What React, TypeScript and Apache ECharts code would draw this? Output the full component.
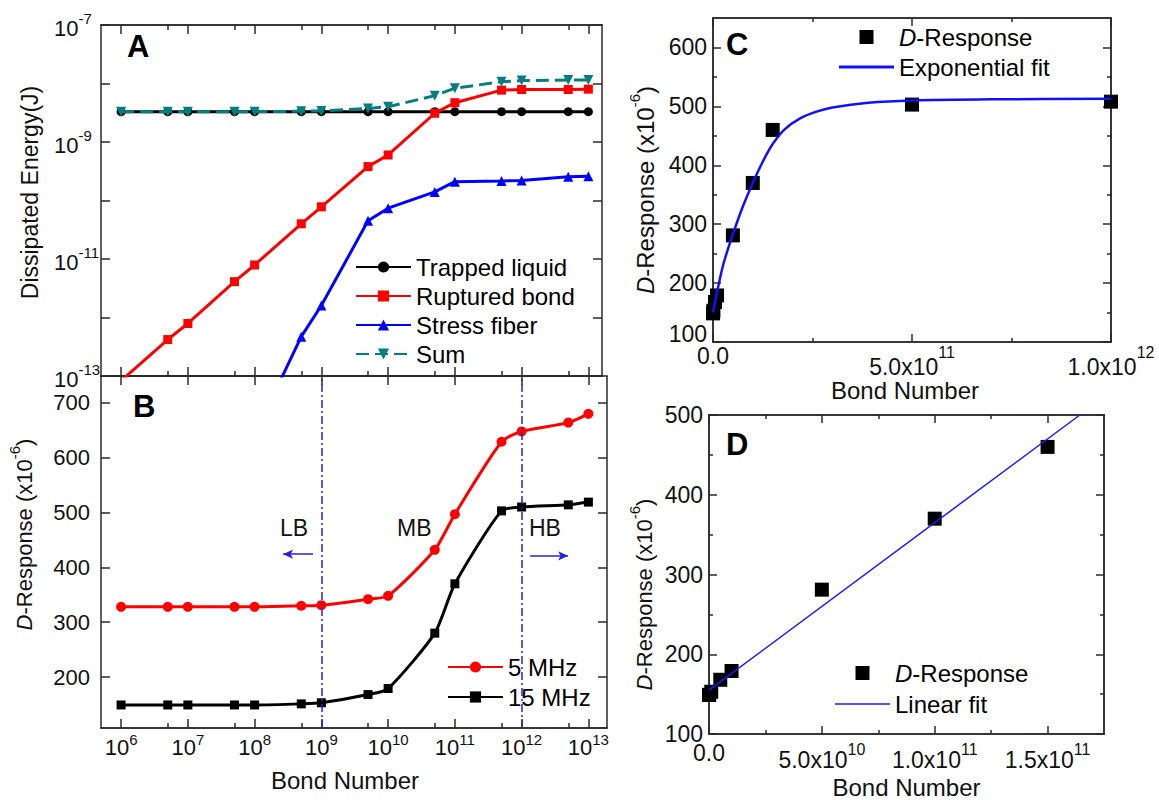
import React, { useEffect, useRef } from 'react';
import * as echarts from 'echarts';

const FONT = '"Liberation Sans", Arial, Helvetica, sans-serif';
const AXIS_COLOR = '#2a2a2a';
const TEXT_COLOR = '#111111';

// ---------------- Panel A & B: bond numbers ----------------
const bondNumber = [1e6, 5e6, 1e7, 5e7, 1e8, 5e8, 1e9, 5e9, 1e10, 5e10, 1e11, 5e11, 1e12, 5e12, 1e13];

// Panel A: dissipated energy (J)
const trappedLiquid = [3.3e-9, 3.3e-9, 3.3e-9, 3.3e-9, 3.3e-9, 3.3e-9, 3.3e-9, 3.3e-9, 3.3e-9, 3.3e-9, 3.3e-9, 3.3e-9, 3.3e-9, 3.3e-9, 3.3e-9];
const rupturedBond = [8.3e-14, 4.2e-13, 7.9e-13, 4.1e-12, 7.9e-12, 4.0e-11, 7.8e-11, 3.8e-10, 6.0e-10, 3.1e-9, 4.7e-9, 7.7e-9, 7.9e-9, 7.9e-9, 8.0e-9];
const stressFiber = [null, null, null, null, 1.0e-14, 4.7e-13, 1.6e-12, 4.5e-11, 7.4e-11, 1.4e-10, 2.1e-10, 2.15e-10, 2.2e-10, 2.55e-10, 2.6e-10];
const sumEnergy = [3.3e-9, 3.3e-9, 3.3e-9, 3.3e-9, 3.3e-9, 3.35e-9, 3.4e-9, 3.75e-9, 4.0e-9, 6.2e-9, 8.3e-9, 1.07e-8, 1.12e-8, 1.15e-8, 1.15e-8];

// Panel B: D-Response (x10^-6)
const response5MHz = [328, 328, 328, 328, 328, 330, 331, 342, 348, 432, 497, 629, 648, 664, 680];
const response15MHz = [149, 149, 149, 149, 149, 151, 153, 168, 179, 280, 370, 503, 510, 514, 519];

// Panels C & D: D-Response vs bond number (linear axes)
const dResponseN = [1e6, 1e7, 1e8, 1e9, 5e9, 1e10, 5e10, 1e11, 1.5e11, 5e11, 1e12];
const dResponse = [149, 149, 149, 153, 168, 179, 281, 370, 460, 503, 508];

// Exponential fit curve
const expFitN = [0, 1e10, 2.6e10, 5e10, 7.5e10, 1e11, 1.25e11, 1.5e11, 1.8e11, 2.2e11, 2.6e11, 3e11, 3.9e11, 5e11, 7e11, 1e12];
const expFitY = [150, 184, 232, 283, 330, 370, 406, 436, 461, 480, 491, 498, 506, 510, 512, 513];

// Linear fit line
const linFitN = [0, 1.643e11];
const linFitY = [155, 500];

// Tick values
const decadeTicks = [1e6, 1e7, 1e8, 1e9, 1e10, 1e11, 1e12, 1e13];
const halfDecadeTicks = [5e6, 5e7, 5e8, 5e9, 5e10, 5e11, 5e12];
const energyTicks = [1e-13, 1e-12, 1e-11, 1e-10, 1e-9, 1e-8, 1e-7];
const energyLabels = [1e-13, 1e-11, 1e-9, 1e-7];
const responseTicksB = [200, 300, 400, 500, 600, 700];
const responseTicksC = [100, 200, 300, 400, 500, 600];
const responseLabelsC = [200, 300, 400, 500, 600];
const responseBottomLabelC = [100];
const responseMinorC = [150, 250, 350, 450, 550];
const responseTicksD = [100, 200, 300, 400, 500];
const responseMinorD = [150, 250, 350, 450];
const bondTicksC = [0, 5e11, 1e12];
const bondMinorC = [2.5e11, 7.5e11];
const bondTicksD = [0, 5e10, 1e11, 1.5e11];
const bondMinorD = [2.5e10, 7.5e10, 1.25e11];

// Band boundaries in panel B
const bandBoundaries = [1e9, 1e12];
const lbArrow = { from: 7.5e8, to: 2.67e8, y: 424 };
const hbArrow = { from: 1.34e12, to: 4.97e12, y: 421 };

const pairs = (xs: number[], ys: (number | null)[]) =>
  xs.map((x, i) => [x, ys[i]]).filter((p) => p[1] !== null && p[1] !== undefined);

const pow10Label = (v: number) => `{b|10}{s|${Math.round(Math.log10(v))}}`;
const sciLabel = (v: number) => {
  if (v === 0) return '{z|0.0}';
  const e = Math.floor(Math.log10(v) + 1e-9);
  const m = (v / Math.pow(10, e)).toFixed(1);
  return `{m|${m}x10}{s|${e}}`;
};

function frameAxis(o: any) {
  const ax: any = {
    type: o.type,
    gridIndex: o.gridIndex,
    position: o.position,
    min: o.min,
    max: o.max,
    axisLine: { show: true, onZero: false, lineStyle: { color: AXIS_COLOR, width: 1.5 } },
    axisTick: {
      show: true,
      inside: true,
      length: o.len,
      customValues: o.ticks,
      lineStyle: { color: AXIS_COLOR, width: 1.5 },
    },
    axisLabel: o.label || { show: false },
    splitLine: { show: false },
    minorTick: { show: false },
    minorSplitLine: { show: false },
  };
  if (o.type === 'log') ax.logBase = 10;
  if (o.name) Object.assign(ax, o.name);
  return ax;
}

const rt = (size: number, extra: any = {}) => ({ fontSize: size, color: TEXT_COLOR, fontFamily: FONT, ...extra });

const yTitle = (gap: number, size: number, pad: number[]) => ({
  name: '{i|D}{n|-Response (x10}{s|-6}{n|)}',
  nameLocation: 'middle',
  nameGap: gap,
  nameTextStyle: {
    color: TEXT_COLOR,
    fontFamily: FONT,
    fontSize: size,
    padding: pad,
    rich: {
      i: rt(size, { fontStyle: 'italic', padding: [6, 0, 0, 0] }),
      n: rt(size, { padding: [6, 0, 0, 0] }),
      s: rt(15, { verticalAlign: 'top' }),
    },
  },
});

const xTitle = (gap: number, pad: number[]) => ({
  name: 'Bond Number',
  nameLocation: 'middle',
  nameGap: gap,
  nameTextStyle: { color: TEXT_COLOR, fontFamily: FONT, fontSize: 24, padding: pad },
});

export default function App() {
  const ref = useRef<HTMLDivElement>(null);

  useEffect(() => {
    if (!ref.current) return;
    const chart = echarts.init(ref.current, undefined, { renderer: 'svg' });

    const A_MIN = 5e5, A_MAX = 1.6e13, B_MAX = 1.9e13;

    const xAxis = [
      // Panel A (grid 0)
      frameAxis({ gridIndex: 0, position: 'bottom', type: 'log', min: A_MIN, max: A_MAX, ticks: decadeTicks, len: 9 }),
      frameAxis({ gridIndex: 0, position: 'bottom', type: 'log', min: A_MIN, max: A_MAX, ticks: halfDecadeTicks, len: 5 }),
      frameAxis({ gridIndex: 0, position: 'top', type: 'log', min: A_MIN, max: A_MAX, ticks: decadeTicks, len: 9 }),
      frameAxis({ gridIndex: 0, position: 'top', type: 'log', min: A_MIN, max: A_MAX, ticks: halfDecadeTicks, len: 5 }),
      // Panel B (grid 1)
      frameAxis({
        gridIndex: 1, position: 'bottom', type: 'log', min: A_MIN, max: B_MAX, ticks: decadeTicks, len: 9,
        label: {
          show: true, customValues: decadeTicks, margin: 4, color: TEXT_COLOR, fontFamily: FONT,
          formatter: pow10Label,
          rich: { b: rt(22, { padding: [4, 0, 0, 0] }), s: rt(15, { verticalAlign: 'top' }) },
        },
        name: xTitle(40, [0, 18, 0, 0]),
      }),
      frameAxis({ gridIndex: 1, position: 'bottom', type: 'log', min: A_MIN, max: B_MAX, ticks: halfDecadeTicks, len: 5 }),
      frameAxis({ gridIndex: 1, position: 'top', type: 'log', min: A_MIN, max: B_MAX, ticks: decadeTicks, len: 9 }),
      // Panel C (grid 2)
      frameAxis({
        gridIndex: 2, position: 'bottom', type: 'value', min: 0, max: 1e12, ticks: bondTicksC, len: 8,
        label: {
          show: true, customValues: bondTicksC, margin: 2, color: TEXT_COLOR, fontFamily: FONT,
          formatter: sciLabel,
          rich: { z: rt(23), m: rt(23, { padding: [11, 0, 0, 0] }), s: rt(16, { verticalAlign: 'top' }) },
        },
        name: xTitle(32, [0, 14, 0, 0]),
      }),
      frameAxis({ gridIndex: 2, position: 'bottom', type: 'value', min: 0, max: 1e12, ticks: bondMinorC, len: 4 }),
      frameAxis({ gridIndex: 2, position: 'top', type: 'value', min: 0, max: 1e12, ticks: bondTicksC, len: 8 }),
      frameAxis({ gridIndex: 2, position: 'top', type: 'value', min: 0, max: 1e12, ticks: bondMinorC, len: 4 }),
      // Panel D (grid 3)
      frameAxis({
        gridIndex: 3, position: 'bottom', type: 'value', min: 0, max: 1.75e11, ticks: bondTicksD, len: 8,
        label: {
          show: true, customValues: bondTicksD, margin: 7, color: TEXT_COLOR, fontFamily: FONT,
          formatter: sciLabel,
          rich: { z: rt(23), m: rt(23, { padding: [7, 0, 0, 0] }), s: rt(16, { verticalAlign: 'top' }) },
        },
        name: xTitle(41, [0, 0, 0, 0]),
      }),
      frameAxis({ gridIndex: 3, position: 'bottom', type: 'value', min: 0, max: 1.75e11, ticks: bondMinorD, len: 4 }),
      frameAxis({ gridIndex: 3, position: 'top', type: 'value', min: 0, max: 1.75e11, ticks: bondTicksD, len: 8 }),
      frameAxis({ gridIndex: 3, position: 'top', type: 'value', min: 0, max: 1.75e11, ticks: bondMinorD, len: 4 }),
    ];

    const yAxis = [
      // Panel A
      frameAxis({
        gridIndex: 0, position: 'left', type: 'log', min: 1e-13, max: 1e-7, ticks: energyTicks, len: 9,
        label: {
          show: true, customValues: energyLabels, margin: 47, align: 'left', color: TEXT_COLOR, fontFamily: FONT,
          formatter: pow10Label,
          rich: { b: rt(22, { padding: [6, 0, 0, 0] }), s: rt(15, { verticalAlign: 'top' }) },
        },
        name: {
          name: 'Dissipated Energy(J)', nameLocation: 'middle', nameGap: 60,
          nameTextStyle: { color: TEXT_COLOR, fontFamily: FONT, fontSize: 23, padding: [0, 0, 0, 16] },
        },
      }),
      frameAxis({ gridIndex: 0, position: 'right', type: 'log', min: 1e-13, max: 1e-7, ticks: energyTicks, len: 9 }),
      // Panel B
      frameAxis({
        gridIndex: 1, position: 'left', type: 'value', min: 107, max: 749, ticks: responseTicksB, len: 9,
        label: { show: true, customValues: responseTicksB, margin: 11, color: TEXT_COLOR, fontFamily: FONT, fontSize: 22 },
        name: yTitle(66, 22, [0, 0, 0, 35]),
      }),
      frameAxis({ gridIndex: 1, position: 'right', type: 'value', min: 107, max: 749, ticks: responseTicksB, len: 9 }),
      // Panel C
      frameAxis({
        gridIndex: 2, position: 'left', type: 'value', min: 100, max: 650, ticks: responseTicksC, len: 8,
        label: { show: true, customValues: responseLabelsC, margin: 6, color: TEXT_COLOR, fontFamily: FONT, fontSize: 23 },
        name: yTitle(56, 24, [0, 20, 0, 0]),
      }),
      frameAxis({
        gridIndex: 2, position: 'left', type: 'value', min: 100, max: 650, ticks: responseMinorC, len: 4,
        label: {
          show: true, customValues: responseBottomLabelC, margin: 6, color: TEXT_COLOR, fontFamily: FONT,
          fontSize: 23, verticalAlign: 'bottom', lineHeight: 16,
        },
      }),
      frameAxis({ gridIndex: 2, position: 'right', type: 'value', min: 100, max: 650, ticks: responseTicksC, len: 8 }),
      frameAxis({ gridIndex: 2, position: 'right', type: 'value', min: 100, max: 650, ticks: responseMinorC, len: 4 }),
      // Panel D
      frameAxis({
        gridIndex: 3, position: 'left', type: 'value', min: 100, max: 500, ticks: responseTicksD, len: 8,
        label: { show: true, customValues: responseTicksD, margin: 6, color: TEXT_COLOR, fontFamily: FONT, fontSize: 23 },
        name: yTitle(54, 22, [0, 40, 0, 0]),
      }),
      frameAxis({ gridIndex: 3, position: 'left', type: 'value', min: 100, max: 500, ticks: responseMinorD, len: 4 }),
      frameAxis({ gridIndex: 3, position: 'right', type: 'value', min: 100, max: 500, ticks: responseTicksD, len: 8 }),
      frameAxis({ gridIndex: 3, position: 'right', type: 'value', min: 100, max: 500, ticks: responseMinorD, len: 4 }),
    ];

    const BLUE_MARK = '#2323d8';

    const series: any[] = [
      // Panel A
      {
        type: 'line', name: 'Trapped liquid', xAxisIndex: 0, yAxisIndex: 0,
        data: pairs(bondNumber, trappedLiquid), symbol: 'circle', symbolSize: 9,
        lineStyle: { color: '#000000', width: 3 }, itemStyle: { color: '#000000' }, z: 2,
      },
      {
        type: 'line', name: 'Ruptured bond', xAxisIndex: 0, yAxisIndex: 0,
        data: pairs(bondNumber, rupturedBond), symbol: 'rect', symbolSize: 9,
        lineStyle: { color: '#ff0000', width: 3 }, itemStyle: { color: '#ff0000' }, z: 3,
      },
      {
        type: 'line', name: 'Stress fiber', xAxisIndex: 0, yAxisIndex: 0,
        data: pairs(bondNumber, stressFiber), symbol: 'triangle', symbolSize: 10,
        lineStyle: { color: '#0000ff', width: 3 }, itemStyle: { color: '#0000ff' }, z: 3,
      },
      {
        type: 'line', name: 'Sum', xAxisIndex: 0, yAxisIndex: 0,
        data: pairs(bondNumber, sumEnergy), symbol: 'triangle', symbolRotate: 180, symbolSize: 10,
        lineStyle: { color: '#037f7f', width: 3, type: [13, 6] }, itemStyle: { color: '#037f7f' }, z: 4,
      },
      // Panel B
      {
        type: 'line', name: '5 MHz', xAxisIndex: 4, yAxisIndex: 2,
        data: pairs(bondNumber, response5MHz), symbol: 'circle', symbolSize: 10,
        smooth: 0.22,
        lineStyle: { color: '#ff0000', width: 3 }, itemStyle: { color: '#ff0000' }, z: 3,
        markLine: {
          silent: true, animation: false, symbol: ['none', 'none'],
          label: { show: false },
          lineStyle: { color: BLUE_MARK, width: 1.5, type: [8, 3, 2, 3] },
          data: bandBoundaries.map((b) => ({ xAxis: b })),
        },
      },
      {
        type: 'line', name: '15 MHz', xAxisIndex: 4, yAxisIndex: 2,
        data: pairs(bondNumber, response15MHz), symbol: 'rect', symbolSize: 9,
        smooth: 0.22,
        lineStyle: { color: '#000000', width: 3 }, itemStyle: { color: '#000000' }, z: 3,
        markLine: {
          silent: true, animation: false, symbolSize: [7, 10],
          label: { show: false },
          lineStyle: { color: BLUE_MARK, width: 1.5, type: 'solid' },
          data: [
            [{ coord: [lbArrow.from, lbArrow.y], symbol: 'none' }, { coord: [lbArrow.to, lbArrow.y], symbol: 'arrow' }],
            [{ coord: [hbArrow.from, hbArrow.y], symbol: 'none' }, { coord: [hbArrow.to, hbArrow.y], symbol: 'arrow' }],
          ],
        },
      },
      // Panel C
      {
        type: 'scatter', name: 'D-Response', xAxisIndex: 7, yAxisIndex: 4,
        data: pairs(dResponseN, dResponse), symbol: 'rect', symbolSize: 14,
        itemStyle: { color: '#000000', opacity: 1 }, z: 2,
      },
      {
        type: 'line', name: 'Exponential fit', xAxisIndex: 7, yAxisIndex: 4,
        data: pairs(expFitN, expFitY), symbol: 'none', showSymbol: false, smooth: 0.3,
        lineStyle: { color: '#1010ff', width: 2.5 }, itemStyle: { color: '#1010ff' }, z: 3,
      },
      // Panel D
      {
        type: 'scatter', name: 'D-Response', xAxisIndex: 11, yAxisIndex: 8,
        data: pairs(dResponseN, dResponse), symbol: 'rect', symbolSize: 14,
        itemStyle: { color: '#000000', opacity: 1 }, z: 2,
      },
      {
        type: 'line', name: 'Linear fit', xAxisIndex: 11, yAxisIndex: 8,
        data: pairs(linFitN, linFitY), symbol: 'none', showSymbol: false,
        lineStyle: { color: '#1a1aff', width: 1.5 }, itemStyle: { color: '#1a1aff' }, z: 3,
      },
    ];

    const legendText = {
      fontSize: 24, color: '#000000', fontFamily: FONT,
      rich: { i: { fontSize: 24, fontStyle: 'italic', color: '#000000', fontFamily: FONT } },
    };
    const legendFmt = (name: string) => (name === 'D-Response' ? '{i|D}-Response' : name);
    const legendBase = {
      orient: 'vertical', itemWidth: 55, itemHeight: 14, padding: 0, selectedMode: false,
      textStyle: legendText, formatter: legendFmt, inactiveColor: '#000', symbolKeepAspect: true,
    };
    const SQUARE_ICON = 'path://M0,0H14V14H0Z';

    const option: any = {
      animation: false,
      backgroundColor: '#ffffff',
      textStyle: { fontFamily: FONT },
      grid: [
        { left: 101, top: 25, width: 501, height: 351 },
        { left: 101, top: 376, width: 506, height: 352 },
        { left: 713, top: 18, width: 398, height: 324 },
        { left: 709, top: 415, width: 395, height: 320 },
      ],
      xAxis,
      yAxis,
      legend: [
        { ...legendBase, left: 355, top: 255, itemGap: 5, data: ['Trapped liquid', 'Ruptured bond', 'Stress fiber', 'Sum'] },
        { ...legendBase, left: 447, top: 655, itemGap: 6, data: ['5 MHz', '15 MHz'] },
        {
          ...legendBase, left: 839, top: 25, itemGap: 6,
          data: [{ name: 'D-Response', icon: SQUARE_ICON }, { name: 'Exponential fit', icon: 'path://M0,0H55V3H0Z' }],
        },
        {
          ...legendBase, left: 835, top: 661, itemGap: 7,
          data: [{ name: 'D-Response', icon: SQUARE_ICON }, { name: 'Linear fit', icon: 'path://M0,0H55V1.5H0Z' }],
        },
      ],
      graphic: [
        { type: 'text', x: 127, y: 46, style: { text: 'A', fontSize: 31, fontWeight: 'bold', fill: '#000', fontFamily: FONT, verticalAlign: 'middle', textVerticalAlign: 'middle' } },
        { type: 'text', x: 133, y: 406, style: { text: 'B', fontSize: 31, fontWeight: 'bold', fill: '#000', fontFamily: FONT, verticalAlign: 'middle', textVerticalAlign: 'middle' } },
        { type: 'text', x: 726, y: 44, style: { text: 'C', fontSize: 31, fontWeight: 'bold', fill: '#000', fontFamily: FONT, verticalAlign: 'middle', textVerticalAlign: 'middle' } },
        { type: 'text', x: 726, y: 444, style: { text: 'D', fontSize: 31, fontWeight: 'bold', fill: '#000', fontFamily: FONT, verticalAlign: 'middle', textVerticalAlign: 'middle' } },
        { type: 'text', x: 280, y: 528, style: { text: 'LB', fontSize: 23, fill: '#111', fontFamily: FONT, verticalAlign: 'middle', textVerticalAlign: 'middle' } },
        { type: 'text', x: 397, y: 528, style: { text: 'MB', fontSize: 23, fill: '#111', fontFamily: FONT, verticalAlign: 'middle', textVerticalAlign: 'middle' } },
        { type: 'text', x: 529, y: 528, style: { text: 'HB', fontSize: 23, fill: '#111', fontFamily: FONT, verticalAlign: 'middle', textVerticalAlign: 'middle' } },
      ],
      series,
    };

    chart.setOption(option);
    return () => chart.dispose();
  }, []);

  return (
    <div style={{ position: 'absolute', left: 0, top: 0, width: 1159, height: 800, background: '#fff' }}>
      <div ref={ref} style={{ width: 1159, height: 800 }} />
    </div>
  );
}
